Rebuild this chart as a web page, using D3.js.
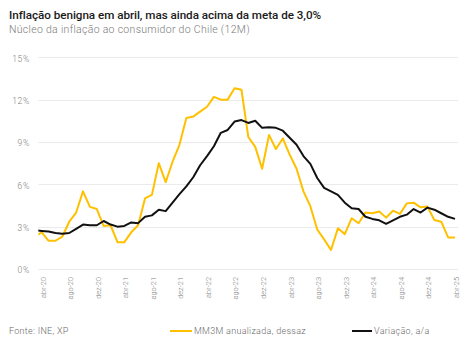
<!DOCTYPE html>
<html>
<head>
<meta charset="utf-8">
<script src="https://cdn.jsdelivr.net/npm/d3@7"></script>
<style>
  html, body { margin: 0; padding: 0; background: #fff; }
  text { font-family: Roboto, 'Noto Sans', sans-serif; }
</style>
</head>
<body>
<div id="myDiv"></div>
<script>
//--------------------------------------------------
// Properties
//--------------------------------------------------
var titleText = 'Inflação benigna em abril, mas ainda acima da meta de 3,0%';
var subtitleText = 'Núcleo da inflação ao consumidor do Chile (12M)';
var sourceText = 'Fonte: INE, XP';
var seriesNames = ['MM3M anualizada, dessaz', 'Variação, a/a'];
var seriesColors = ['#FFC000', '#111111'];
var gridColor = '#ebebeb';
var labelColor = '#808080';

//--------------------------------------------------
// Data (mar-20 .. abr-25, monthly, %)
//--------------------------------------------------
var monthNames = ['jan', 'fev', 'mar', 'abr', 'mai', 'jun', 'jul', 'ago', 'set', 'out', 'nov', 'dez'];
var firstYear = 20, firstMonth = 2, monthCount = 62;

var mm3m = [2.3,
  2.6, 2.0, 2.0, 2.3, 3.35, 4.0, 5.5, 4.4, 4.25, 3.05, 3.1, 1.9,
  1.9, 2.6, 3.1, 5.0, 5.25, 7.5, 6.15, 7.6, 8.8, 10.7, 10.8, 11.15,
  11.5, 12.2, 12.0, 12.0, 12.8, 12.7, 9.35, 8.65, 7.1, 9.5, 8.5, 9.25,
  8.1, 7.1, 5.5, 4.45, 2.8, 2.1, 1.35, 2.88, 2.47, 3.6, 3.24, 4.0,
  3.95, 4.08, 3.64, 4.13, 3.9, 4.65, 4.7, 4.37, 4.42, 3.47, 3.35, 2.24,
  2.24];

var yoy = [2.75,
  2.7, 2.65, 2.55, 2.5, 2.55, 2.85, 3.15, 3.1, 3.1, 3.4, 3.15, 3.0,
  3.05, 3.3, 3.25, 3.7, 3.8, 4.2, 4.1, 4.7, 5.3, 5.85, 6.5, 7.35,
  8.0, 8.7, 9.65, 9.85, 10.45, 10.55, 10.35, 10.5, 10.0, 10.05, 10.0, 9.8,
  9.3, 8.8, 8.0, 7.45, 6.45, 5.75, 5.5, 5.25, 4.7, 4.3, 4.25, 3.7,
  3.55, 3.45, 3.2, 3.45, 3.7, 3.85, 4.25, 4.0, 4.35, 4.2, 3.95, 3.7,
  3.55];

var yTicks = [0, 3, 6, 9, 12, 15];

// month labels like 'abr-20'
var months = d3.range(monthCount).map(function (i) {
  var m = firstMonth + i;
  return monthNames[m % 12] + '-' + (firstYear + Math.floor(m / 12));
});
// labelled every four months starting at abr-20
var xTicks = months.filter(function (d, i) { return i >= 1 && (i - 1) % 4 === 0; });

//--------------------------------------------------
// Chart
//--------------------------------------------------
var width = 473, height = 345;
var plot = {left: 38.3, right: 458, top: 57.3, bottom: 269};

var svg = d3.select('#myDiv')
  .append('svg')
    .attr('width', width)
    .attr('height', height);

// title block
svg.append('text')
  .attr('x', 9).attr('y', 19)
  .attr('fill', '#1a1a1a')
  .style('font-size', '11.7px')
  .style('font-weight', 500)
  .style('letter-spacing', '-0.05px')
  .text(titleText);

svg.append('text')
  .attr('x', 9).attr('y', 33)
  .attr('fill', '#7a7a7a')
  .style('font-size', '10.5px')
  .style('font-weight', 300)
  .style('letter-spacing', '0.3px')
  .text(subtitleText);

var x = d3.scalePoint()
  .domain(months)
  .range([34.8, 455]);

var y = d3.scaleLinear()
  .domain([0, 15])
  .range([plot.bottom, plot.top]);

// horizontal grid
svg.append('g')
  .selectAll('line')
  .data(yTicks)
  .enter().append('line')
    .attr('x1', plot.left)
    .attr('x2', plot.right)
    .attr('y1', function (d) { return Math.round(y(d)) + 0.5; })
    .attr('y2', function (d) { return Math.round(y(d)) + 0.5; })
    .attr('stroke', gridColor)
    .attr('stroke-width', 1);

// y labels
var yAxis = svg.append('g')
  .attr('transform', 'translate(' + 30 + ',0)')
  .call(d3.axisLeft(y).tickValues(yTicks).tickSize(0).tickPadding(0)
    .tickFormat(function (d) { return d + '%'; }));
yAxis.select('.domain').remove();
yAxis.selectAll('text')
  .attr('fill', labelColor)
  .attr('dy', '0.45em')
  .style('font-family', 'Roboto, sans-serif')
  .style('font-size', '8.5px')
  .style('font-weight', 300)
  .style('letter-spacing', '0.7px');

// x labels, rotated
var xAxis = svg.append('g')
  .attr('transform', 'translate(0,' + plot.bottom + ')')
  .call(d3.axisBottom(x).tickValues(xTicks).tickSize(0));
xAxis.select('.domain').remove();
xAxis.selectAll('text')
  .attr('transform', 'rotate(-90)')
  .attr('x', -8)
  .attr('y', 0)
  .attr('dy', '0.45em')
  .attr('fill', labelColor)
  .style('text-anchor', 'end')
  .style('font-family', 'Roboto, sans-serif')
  .style('font-size', '7.4px')
  .style('font-weight', 300);

// lines, clipped to the plot area
svg.append('clipPath')
  .attr('id', 'plotClip')
  .append('rect')
    .attr('x', plot.left)
    .attr('y', 0)
    .attr('width', plot.right - plot.left)
    .attr('height', height);

var line = d3.line()
  .x(function (d, i) { return x(months[i]); })
  .y(function (d) { return y(d); });

var lines = svg.append('g').attr('clip-path', 'url(#plotClip)');
[mm3m, yoy].forEach(function (series, i) {
  lines.append('path')
    .datum(series)
    .attr('fill', 'none')
    .attr('stroke', seriesColors[i])
    .attr('stroke-width', 2)
    .attr('stroke-linejoin', 'round')
    .attr('d', line);
});

// footer: source and legend
svg.append('text')
  .attr('x', 9).attr('y', 334)
  .attr('fill', '#6a6a6a')
  .style('font-size', '9px')
  .style('font-weight', 300)
  .style('letter-spacing', '0.3px')
  .text(sourceText);

var legendPos = [{x1: 170, x2: 192}, {x1: 352, x2: 372}];
var legend = svg.append('g')
  .selectAll('g')
  .data(seriesNames)
  .enter().append('g');

legend.append('line')
  .attr('x1', function (d, i) { return legendPos[i].x1; })
  .attr('x2', function (d, i) { return legendPos[i].x2; })
  .attr('y1', 331)
  .attr('y2', 331)
  .attr('stroke', function (d, i) { return seriesColors[i]; })
  .attr('stroke-width', 2);

legend.append('text')
  .attr('x', function (d, i) { return legendPos[i].x2 + 2; })
  .attr('y', 334)
  .attr('fill', '#6a6a6a')
  .style('font-size', '9px')
  .style('font-weight', 300)
  .style('letter-spacing', '0.3px')
  .text(function (d) { return d; });
</script>
</body>
</html>
